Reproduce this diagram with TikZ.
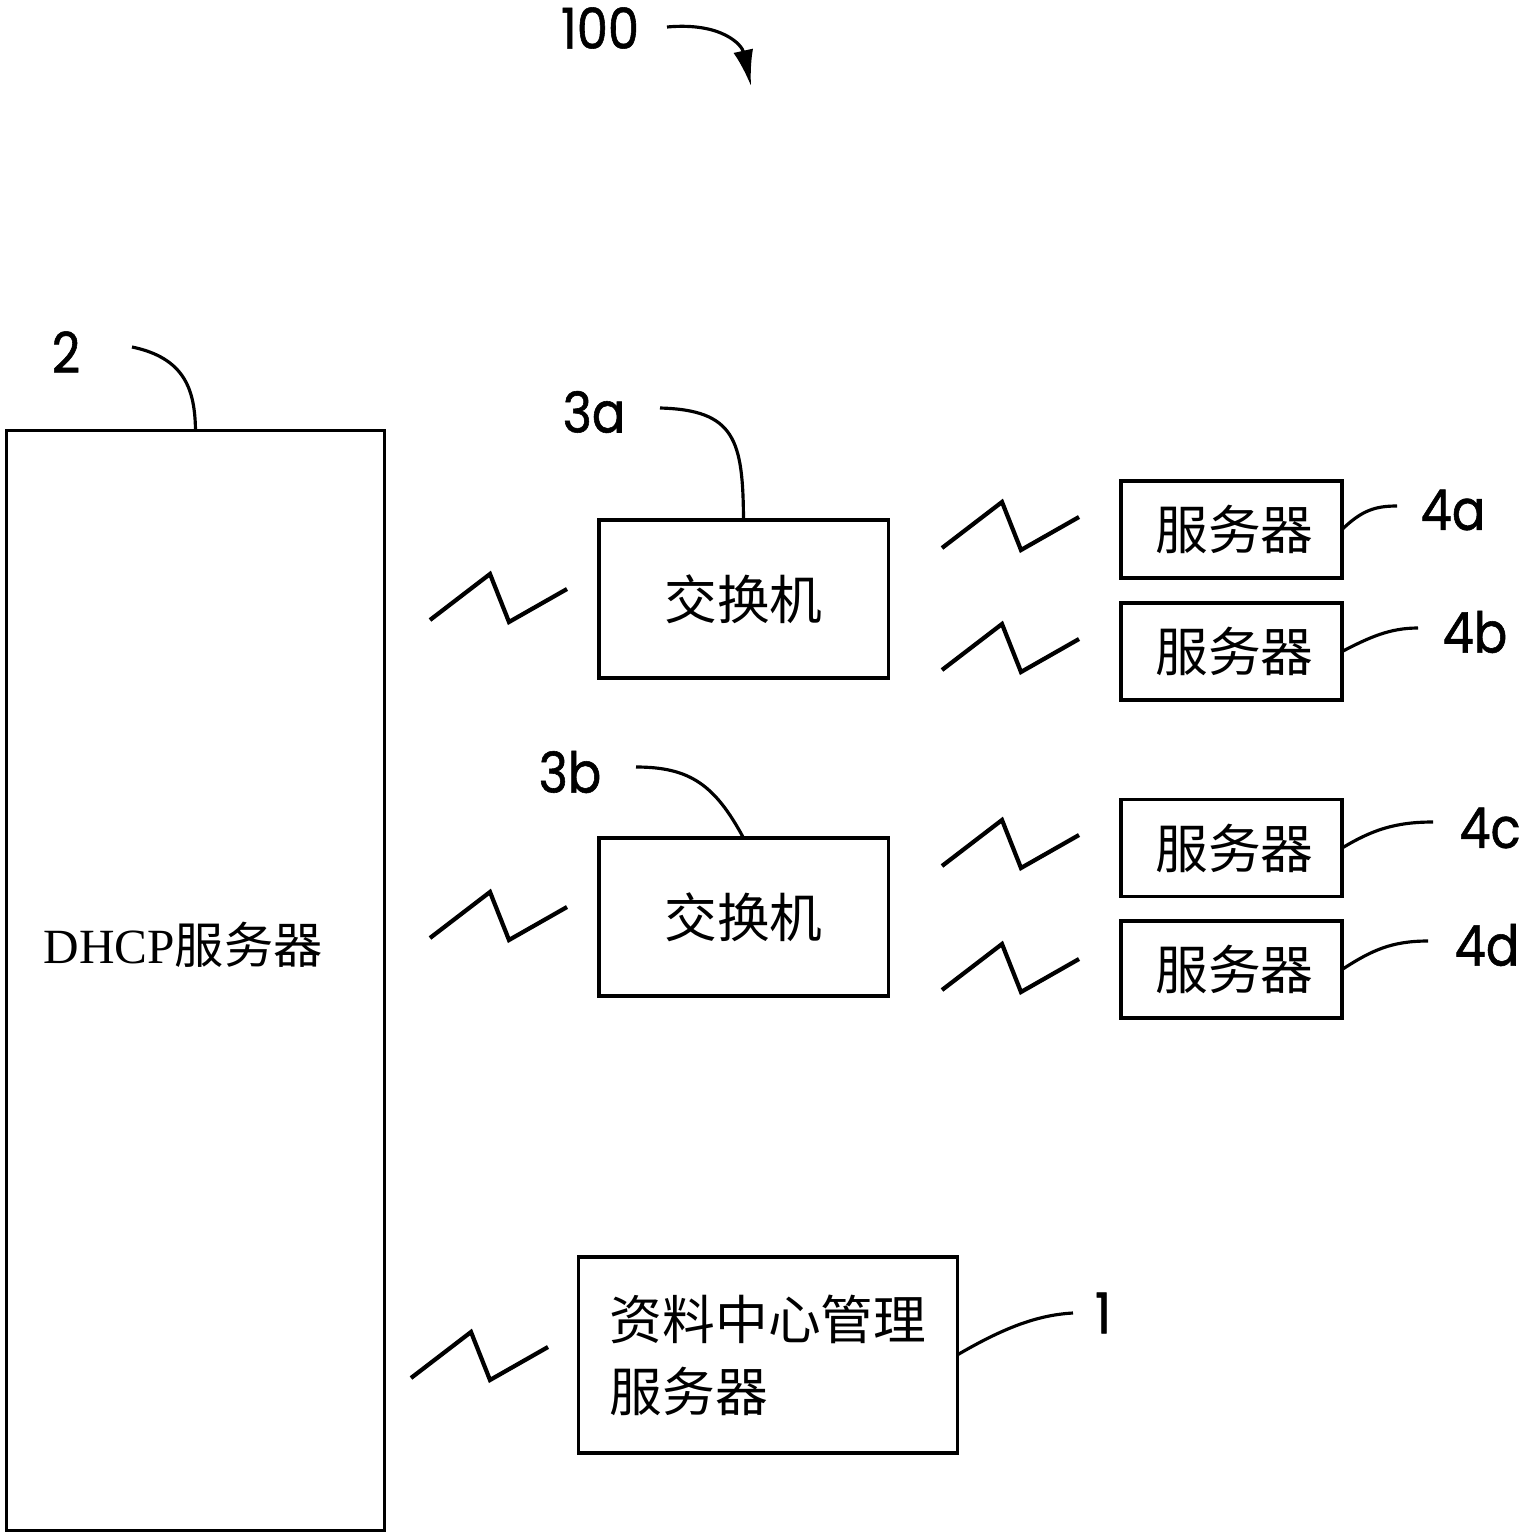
\documentclass[tikz,border=0pt]{standalone}
\usepackage{fontspec}
\setmainfont{Liberation Serif}
\newfontfamily\cjk{Noto Sans CJK SC}
\newfontfamily\tagfont[FakeStretch=0.88,FakeBold=1]{Poppins}
\usetikzlibrary{arrows.meta}

\tikzset{
  box/.style={draw,line width=0.9pt,inner sep=0pt,outer sep=0pt,
    font=\cjk\fontsize{15}{20.5}\selectfont},
  tag/.style={font=\tagfont\fontsize{16}{18}\selectfont,inner sep=0pt},
  lead/.style={line width=0.9pt},
  zz/.style={line width=1.2pt,line join=miter},
  zig/.pic={\draw[zz] (0,0) -- (60,-46) -- (79,2) -- (137,-31);}
}

\begin{document}
\begin{tikzpicture}[x=0.01cm,y=-0.01cm]
\useasboundingbox (0,0) rectangle (1526,1533);

% boxes
\node[box,minimum width=3.77cm,minimum height=10.99cm] (dhcp) at (195.5,980.5) {};
\node[box,font=\fontsize{14}{17}\selectfont] (dhcptxt) at (183,945) [draw=none] {DHCP{\cjk 服务器}};
\node[box,minimum width=2.89cm,minimum height=1.58cm] (sw3a) at (743.5,599) {交换机\hspace{0.16cm}};
\node[box,minimum width=2.89cm,minimum height=1.58cm] (sw3b) at (743.5,917) {交换机\hspace{0.16cm}};
\foreach \n/\y in {4a/529.5,4b/651.5,4c/848,4d/969.5}
  \node[box,minimum width=2.21cm,minimum height=0.97cm] (srv\n) at (1231.5,\y) {\hspace{0.06cm}服务器};
\node[box,minimum width=3.78cm,minimum height=1.96cm,align=left] (dcm) at (768,1355)
  {资料中心管理\\服务器};

% reference labels
\node[tag] (t100) at (600,28) {100};
\node[tag] (t2) at (66,352) {2};
\node[tag] (t3a) at (594,412) {3a};
\node[tag] (t3b) at (570,772) {3b};
\node[tag] (t4a) at (1453,510) {4a};
\node[tag] (t4b) at (1475,632) {4b};
\node[tag] (t4c) at (1490,828) {4c};
\node[tag] (t4d) at (1487,945) {4d};
\node[tag] (t1) at (1103,1313) {1};

% leader ends
\coordinate (e100) at (667,27);
\coordinate (a100) at (751,86);
\coordinate (e2) at (132,347);
\coordinate (e3a) at (660,408);
\coordinate (e3b) at (636,767);
\coordinate (e4a) at (1397,506);
\coordinate (e4b) at (1418,628);
\coordinate (e4c) at (1433,822);
\coordinate (e4d) at (1428,941);
\coordinate (e1) at (1073,1313);

% leaders
\draw[lead,-{Latex[length=0.36cm,width=0.2cm]}] (e100) .. controls (722,22) and (742,45) .. (a100);
\draw[lead] (dhcp.north) .. controls (195,390) and (185,358) .. (e2);
\draw[lead] (sw3a.north) .. controls (743,440) and (735,410) .. (e3a);
\draw[lead] (sw3b.north) .. controls (715,785) and (690,767) .. (e3b);
\draw[lead] (srv4a.east) .. controls (1362,510) and (1376,506) .. (e4a);
\draw[lead] (srv4b.east) .. controls (1370,637) and (1390,628) .. (e4b);
\draw[lead] (srv4c.east) .. controls (1372,830) and (1395,822) .. (e4c);
\draw[lead] (srv4d.east) .. controls (1372,950) and (1392,941) .. (e4d);
\draw[lead] (dcm.east) .. controls (1000,1330) and (1035,1315) .. (e1);

% link symbols
\foreach \p in {(430,620),(430,938),(942,548),(942,670),(942,866),(942,990),(411,1378)}
  \pic at \p {zig};
\end{tikzpicture}
\end{document}
